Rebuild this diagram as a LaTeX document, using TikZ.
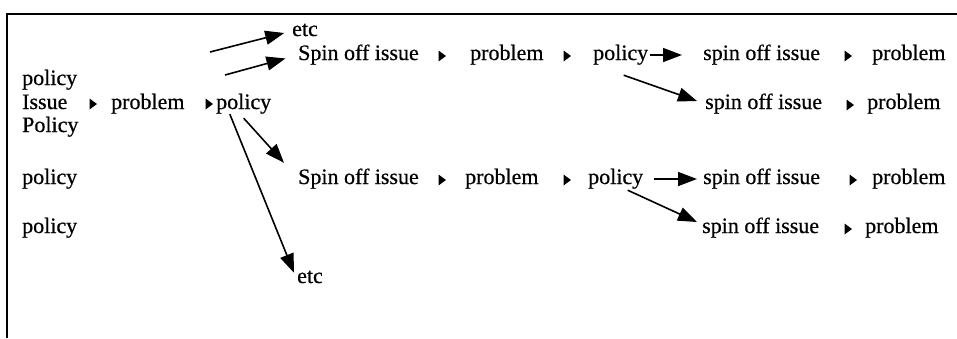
\documentclass[tikz,border=0pt]{standalone}
\usepackage{fontspec}
\setmainfont{Liberation Serif}[FakeBold=0.6]
\usetikzlibrary{arrows.meta, positioning, calc}

\tikzset{
  lbl/.style={inner sep=0pt, anchor=west, text height=15pt, text depth=5pt,
    font=\fontsize{22}{24}\selectfont},
  arr/.style={-{Triangle[length=19pt,width=14pt]}, line width=1.6pt}
}
\newcommand{\marker}[2]{% small pointer between words
  \fill (#1-3.5,#2-5.5) -- (#1+4,#2) -- (#1-3.5,#2+5.5) -- cycle;}

\begin{document}
\begin{tikzpicture}[x=1pt,y=-1pt]
        \useasboundingbox (0,0) rectangle (957,338);
        \draw[line width=1.3pt] (7,338) -- (7,14) -- (957,14);
%
        % left column
        \node[lbl] (p0a) at (22,80)  {policy};
        \node[lbl] (iss) at (22,104) {Issue};
        \node[lbl] (pr0) at (111,104) {problem};
        \node[lbl] (pol0) at (216,104) {policy};
        \node[lbl] (p0b) at (22,127) {Policy};
        \node[lbl] (p0c) at (22,179) {policy};
        \node[lbl] (p0d) at (22,228) {policy};
        \marker{93}{104}
        \marker{209}{104}
%
        % upper branch
        \node[lbl] (etc1) at (292,31) {etc};
        \node[lbl] (spin1) at (298,55) {Spin off issue};
        \node[lbl] (pr1) at (470,55) {problem};
        \node[lbl] (pol1) at (593,55) {policy};
        \node[lbl] (spin1r) at (703,55) {spin off issue};
        \node[lbl] (pr1r) at (872,55) {problem};
        \node[lbl] (spin2r) at (705,104) {spin off issue};
        \node[lbl] (pr2r) at (867,104) {problem};
        \marker{442}{56}
        \marker{567}{56}
        \marker{848}{56}
        \marker{850}{105}
%
        % lower branch
        \node[lbl] (spin3) at (298,179) {Spin off issue};
        \node[lbl] (pr3) at (465,179) {problem};
        \node[lbl] (pol3) at (588,179) {policy};
        \node[lbl] (spin3r) at (703,179) {spin off issue};
        \node[lbl] (pr3r) at (872,179) {problem};
        \node[lbl] (spin4r) at (702,228) {spin off issue};
        \node[lbl] (pr4r) at (865,228) {problem};
        \node[lbl] (etc2) at (297,278) {etc};
        \marker{442}{180}
        \marker{567}{180}
        \marker{853}{180}
        \marker{848}{229}
%
        \coordinate (a1) at (210,52);
        \coordinate (a2) at (225,75);
        \draw[arr,shorten >=8pt] (a1) -- (etc1.west);
        \draw[arr,shorten >=13pt] (a2) -- (spin1.west);
        \draw[arr] ($(pol0.south)+(0,4)$) -- ($(spin3.north west)+(-14,-6)$);
        \draw[arr] ($(pol0.south west)!0.25!(pol0.south east)$) -- ($(etc2.north west)+(-3,5)$);
%
        \draw[arr,shorten <=2pt,shorten >=21pt] (pol1.east) -- (spin1r.west);
        \draw[arr] ($(pol1.south)+(3,10)$) -- ($(spin2r.west)+(-8,-3)$);
        \draw[arr,shorten <=11pt,shorten >=6pt] (pol3.east) -- (spin3r.west);
        \draw[arr] ($(pol3.south)+(12,1)$) -- ($(spin4r.west)+(-5,-6)$);
      \end{tikzpicture}
\end{document}
